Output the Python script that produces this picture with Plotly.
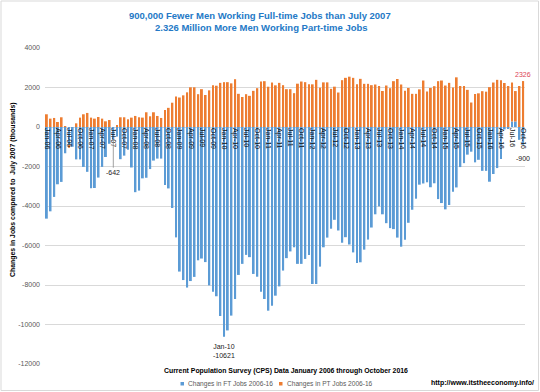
import plotly.graph_objects as go

# ---------------- data ----------------
month_names = ["Jan", "Feb", "Mar", "Apr", "May", "Jun", "Jul", "Aug", "Sep", "Oct", "Nov", "Dec"]
years = list(range(2006, 2017))
categories = [f"{m}-{str(y)[2:]}" for y in years for m in month_names][:130]  # Jan-06 .. Oct-16

ft_changes = [
    -4640, -4270, -3540, -2900, -2780, -1330, -950, -1000, -1640, -1640, -2020, -2270,   # 2006
    -3100, -3090, -2560, -2020, -1520, -850, -642, -480, -1630, -1450, -1150, -2050,     # 2007
    -3300, -3220, -2600, -2570, -2130, -1700, -1600, -1600, -2940, -3110, -4100, -5590,  # 2008
    -7320, -7750, -8130, -7800, -7590, -6750, -6660, -6840, -8020, -8340, -8570, -9570,  # 2009
    -10621, -10300, -9550, -8710, -7490, -6930, -6475, -6590, -7440, -7580, -8340, -8710,  # 2010
    -9300, -9050, -8540, -8070, -7270, -6640, -6300, -6090, -6930, -6930, -6680, -6475,  # 2011
    -7950, -7950, -7070, -6090, -5600, -5150, -4700, -5240, -5860, -5580, -5950, -6350,  # 2012
    -6890, -6850, -6210, -5700, -5090, -4420, -4020, -4420, -4870, -5120, -5170, -5600,  # 2013
    -6060, -5710, -4850, -4190, -3630, -2920, -2860, -2800, -3050, -2850, -3650, -3850,  # 2014
    -4170, -3950, -3280, -3060, -2030, -1830, -1400, -1250, -1790, -1660, -2220, -2220,  # 2015
    -2770, -2380, -2080, -1620, -120, -100, 280, 280, -650, -900,                        # 2016
]

pt_changes = [
    644, 424, 458, 254, 492, 50, -100, 0, 186, 475, 644, 712,            # 2006
    475, 424, 508, 424, 288, 356, 0, 68, 492, 492, 390, 475,             # 2007
    560, 492, 475, 746, 542, 746, 559, 458, 864, 970, 1230, 1545,        # 2008
    1493, 1603, 1755, 2010, 2010, 1662, 1915, 1620, 1856, 2110, 2090, 2235,  # 2009
    2270, 2270, 2210, 2420, 1680, 1520, 1662, 1578, 1831, 1966, 2303, 2320,  # 2010
    2040, 2252, 2110, 2235, 2118, 1915, 1915, 1713, 2193, 2303, 2270, 2160,  # 2011
    2160, 2388, 1990, 2260, 2260, 1932, 2042, 1746, 2371, 2489, 2548, 2489,  # 2012
    2168, 2438, 2186, 2186, 2118, 2152, 2075, 1822, 2101, 1966, 2320, 2430,  # 2013
    2152, 1839, 1974, 1679, 1679, 1906, 2354, 1798, 1974, 2067, 2320, 2354,  # 2014
    2100, 2235, 2000, 2515, 2075, 2076, 1881, 1240, 1670, 1705, 1814, 1789,  # 2015
    2017, 2252, 2388, 2362, 2227, 2075, 1972, 1540, 2075, 2326,              # 2016
]

series_names = ["Changes in FT Jobs 2006-16", "Changes in PT Jobs 2006-16"]
tick_labels = categories[::3]
y_ticks = [4000, 2000, 0, -2000, -4000, -6000, -8000, -10000, -12000]

# ---------------- layout helpers ----------------
W, H = 540, 392
ML, MR, MT, MB = 45, 15, 48, 28
PW, PH = W - ML - MR, H - MT - MB


def px(x):
    return (x - ML) / PW


def py(y):
    return (H - MB - y) / PH


BLUE = "#5B9BD5"
ORANGE = "#ED7D31"
FONT = "Liberation Sans"

fig = go.Figure()
fig.add_trace(go.Bar(x=categories, y=ft_changes, name=series_names[0],
                     marker=dict(color=BLUE, line=dict(width=0))))
fig.add_trace(go.Bar(x=categories, y=pt_changes, name=series_names[1],
                     marker=dict(color=ORANGE, line=dict(width=0))))

ann = []
# title
ann.append(dict(text="<b>900,000 Fewer Men Working Full-time Jobs than July 2007</b>",
                x=px(260), y=py(15), xref="paper", yref="paper", showarrow=False,
                xanchor="center", yanchor="middle", font=dict(size=9.5, color="#2479C6", family=FONT)))
ann.append(dict(text="<b>2.326 Million More Men Working Part-time Jobs</b>",
                x=px(261), y=py(27), xref="paper", yref="paper", showarrow=False,
                xanchor="center", yanchor="middle", font=dict(size=9.5, color="#2479C6", family=FONT)))
# axis titles
ann.append(dict(text="<b>Changes in Jobs compared to  July 2007 (thousands)</b>",
                x=px(13), y=py(190), xref="paper", yref="paper", showarrow=False, textangle=-90,
                xanchor="center", yanchor="middle", font=dict(size=6.9, color="#000000", family=FONT)))
ann.append(dict(text="<b>Current Population Survey (CPS) Data January 2006 through October 2016</b>",
                x=px(286), y=py(371), xref="paper", yref="paper", showarrow=False,
                xanchor="center", yanchor="middle", font=dict(size=6.9, color="#000000", family=FONT)))
ann.append(dict(text="<b>http://www.itstheeconomy.info/</b>",
                x=px(482), y=py(383), xref="paper", yref="paper", showarrow=False,
                xanchor="center", yanchor="middle", font=dict(size=7, color="#000000", family=FONT)))
# legend (drawn as squares + labels so the plot area keeps its place)
shapes = []
for name, col, x_sq in [(series_names[0], BLUE, 180.5), (series_names[1], ORANGE, 279)]:
    shapes.append(dict(type="rect", xref="paper", yref="paper", x0=px(x_sq), x1=px(x_sq + 3.5),
                       y0=py(385.5), y1=py(382), line=dict(width=0), fillcolor=col))
    ann.append(dict(text=name, x=px(x_sq + 5.5), y=py(384), xref="paper", yref="paper",
                    showarrow=False, xanchor="left", yanchor="middle",
                    font=dict(size=6.6, color="#595959", family=FONT)))
# data labels
i_min = ft_changes.index(min(ft_changes))
ann.append(dict(text=f"{categories[i_min]}<br>{ft_changes[i_min]}", x=categories[i_min], y=ft_changes[i_min],
                showarrow=False, xanchor="center", yanchor="top", yshift=-4,
                font=dict(size=7, color="#222222", family=FONT)))
ann.append(dict(text=str(ft_changes[18]), x=categories[18], y=ft_changes[18], showarrow=True,
                arrowhead=0, arrowwidth=0.8, arrowcolor="#8C8C8C", ax=0, ay=33,
                font=dict(size=7, color="#222222", family=FONT)))
ann.append(dict(text=str(ft_changes[-1]), x=categories[-1], y=ft_changes[-1], showarrow=False,
                xanchor="center", yanchor="top", yshift=-8,
                font=dict(size=7, color="#222222", family=FONT)))
ann.append(dict(text=str(pt_changes[-1]), x=categories[-1], y=pt_changes[-1], showarrow=False,
                xanchor="center", yanchor="bottom", yshift=1,
                font=dict(size=7, color="#DD4455", family=FONT)))

shapes.append(dict(type="rect", xref="paper", yref="paper", x0=px(1), x1=px(538.5), y0=py(390.5), y1=py(1),
                   line=dict(color="#D9D9D9", width=1), fillcolor="rgba(0,0,0,0)", layer="below"))

fig.update_layout(
    width=W, height=H,
    margin=dict(l=ML, r=MR, t=MT, b=MB, pad=0, autoexpand=False),
    paper_bgcolor="white", plot_bgcolor="white",
    barmode="relative", bargap=0.48,
    annotations=ann,
    showlegend=False,
    shapes=shapes,
    xaxis=dict(type="category", categoryorder="array", categoryarray=categories,
               range=[-0.5, len(categories) - 0.5],
               anchor="free", position=0.75, side="bottom",
               tickmode="array", tickvals=tick_labels, ticktext=tick_labels,
               tickangle=90, tickfont=dict(size=7, color="#111111", family=FONT),
               showgrid=False, showline=False, zeroline=False, ticks="", automargin=False),
    yaxis=dict(range=[-12000, 4000], tickmode="array", tickvals=y_ticks,
               ticktext=[str(v) for v in y_ticks],
               tickfont=dict(size=7, color="#595959", family=FONT),
               showgrid=True, gridcolor="#D9D9D9", gridwidth=1,
               zeroline=True, zerolinecolor="#D9D9D9", zerolinewidth=1,
               showline=False, ticks="", automargin=False, ticklabelstandoff=4),
)

fig.write_html("out.html", config={"displayModeBar": False},
               post_script="document.body.style.margin='0';document.body.style.overflow='hidden';")
